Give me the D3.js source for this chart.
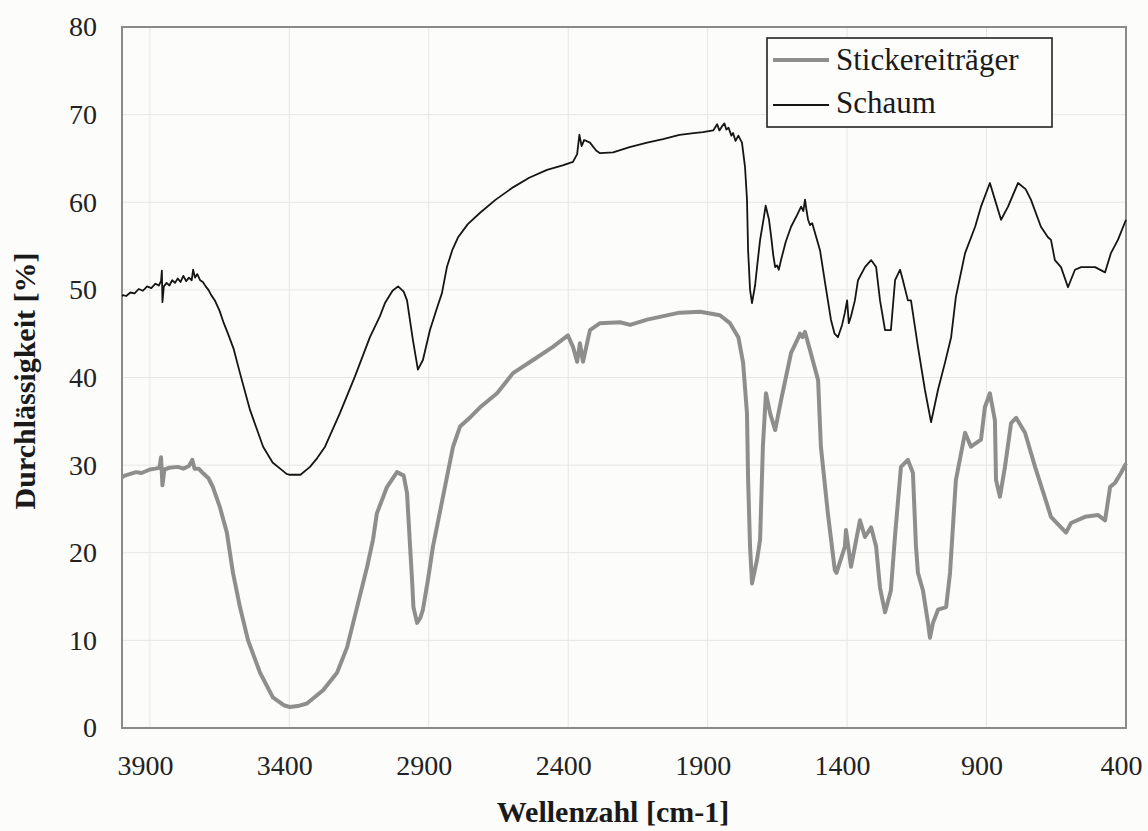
<!DOCTYPE html>
<html>
<head>
<meta charset="utf-8">
<script src="https://cdn.jsdelivr.net/npm/d3@7"></script>
<style>
  body { margin: 0; background: #fcfcfa; }
  .tick text { font-family: "Liberation Serif", "Times New Roman", serif; font-size: 28px; fill: #222; }
  .grid { stroke: #e6e6e3; stroke-width: 1; }
</style>
</head>
<body>
<div id="my_dataviz"></div>
<script>
// tick labels
var xTicks = [3900, 3400, 2900, 2400, 1900, 1400, 900, 400];
var yTicks = [0, 10, 20, 30, 40, 50, 60, 70, 80];
var seriesNames = ["Stickereiträger", "Schaum"];

// Schaum: [wavenumber, transmission %]
var schaum = [
  [4000,49.3],[3996,49.4],[3985,49.3],[3970,49.7],[3955,49.6],[3940,50.1],[3925,49.9],[3910,50.4],
  [3895,50.2],[3880,50.7],[3868,50.5],[3860,51.0],[3857,52.2],[3855,48.6],[3850,50.4],[3840,50.8],
  [3830,50.5],[3820,51.1],[3810,50.8],[3800,51.3],[3790,50.9],[3780,51.6],[3770,51.0],[3760,51.4],
  [3750,51.1],[3745,52.3],[3738,51.4],[3730,51.8],[3720,51.1],[3710,50.9],[3700,50.4],[3690,50.0],
  [3680,49.4],[3667,48.8],[3650,47.6],[3635,46.2],[3620,45.0],[3600,43.3],[3577,40.5],[3541,36.3],
  [3494,32.1],[3460,30.3],[3433,29.6],[3410,29.0],[3398,28.9],[3360,28.9],[3326,29.8],[3300,30.8],
  [3272,32.1],[3219,35.9],[3165,40.1],[3111,44.6],[3075,47.0],[3057,48.5],[3030,49.9],[3010,50.4],
  [2990,49.8],[2978,48.8],[2957,44.3],[2939,40.9],[2921,42.0],[2896,45.4],[2870,48.0],[2853,49.6],
  [2835,52.6],[2815,54.6],[2795,56.0],[2760,57.5],[2716,58.8],[2660,60.3],[2598,61.7],[2540,62.8],
  [2476,63.7],[2420,64.2],[2383,64.6],[2368,65.5],[2360,67.7],[2352,66.4],[2343,67.1],[2322,66.8],
  [2300,65.9],[2286,65.6],[2239,65.7],[2180,66.3],[2117,66.8],[2060,67.2],[2001,67.7],[1950,67.9],
  [1917,68.0],[1880,68.2],[1866,68.9],[1858,68.2],[1850,68.6],[1840,69.0],[1833,68.3],[1825,68.5],
  [1815,67.6],[1809,67.9],[1800,67.0],[1790,67.6],[1777,66.8],[1766,64.0],[1759,60.3],[1755,54.5],
  [1748,50.0],[1741,48.5],[1730,50.5],[1723,52.6],[1712,55.7],[1700,58.0],[1692,59.6],[1686,58.8],
  [1680,58.0],[1672,56.0],[1665,54.0],[1658,52.6],[1651,52.8],[1645,52.3],[1637,53.4],[1620,55.5],
  [1601,57.2],[1580,58.5],[1565,59.5],[1557,59.0],[1551,60.3],[1546,59.2],[1540,58.0],[1533,57.4],
  [1525,57.6],[1515,56.5],[1497,54.5],[1479,50.8],[1469,48.8],[1458,46.6],[1445,45.0],[1433,44.6],
  [1418,46.0],[1408,47.4],[1400,48.8],[1394,46.2],[1386,47.0],[1372,48.8],[1361,51.1],[1336,52.6],
  [1314,53.4],[1296,52.6],[1282,48.8],[1264,45.4],[1243,45.4],[1228,51.1],[1210,52.3],[1200,51.1],
  [1182,48.8],[1171,48.8],[1146,43.5],[1121,38.6],[1099,34.9],[1074,38.6],[1049,41.7],[1027,44.6],
  [1010,49.2],[977,54.2],[941,57.2],[920,59.5],[888,62.2],[870,60.3],[848,58.0],[823,59.5],
  [787,62.2],[760,61.5],[741,60.3],[705,57.2],[680,56.0],[669,55.7],[655,53.4],[633,52.6],
  [608,50.3],[583,52.3],[561,52.6],[511,52.6],[475,52.0],[454,54.2],[429,55.7],[400,58.0]
];

// Stickereiträger: [wavenumber, transmission %]
var stickereitraeger = [
  [4000,28.6],[3990,28.8],[3970,29.0],[3950,29.2],[3930,29.1],[3900,29.5],[3880,29.6],[3866,29.7],
  [3860,30.9],[3855,27.7],[3848,29.5],[3830,29.7],[3800,29.8],[3780,29.6],[3760,29.9],[3748,30.6],
  [3740,29.6],[3725,29.6],[3710,29.1],[3690,28.5],[3674,27.5],[3649,25.2],[3624,22.3],[3602,17.7],
  [3577,13.8],[3548,10.0],[3505,6.3],[3459,3.5],[3420,2.6],[3398,2.4],[3370,2.5],[3337,2.8],
  [3279,4.3],[3229,6.3],[3193,9.2],[3157,13.8],[3121,18.4],[3100,21.5],[3086,24.5],[3050,27.5],
  [3014,29.2],[2990,28.8],[2978,26.8],[2967,20.7],[2960,16.9],[2955,13.8],[2942,12.0],[2930,12.6],
  [2921,13.5],[2903,16.9],[2885,20.7],[2849,26.4],[2813,32.1],[2788,34.4],[2750,35.5],[2716,36.6],
  [2655,38.2],[2598,40.5],[2526,42.0],[2455,43.5],[2401,44.8],[2383,43.5],[2368,41.8],[2358,43.9],
  [2347,41.8],[2322,45.4],[2286,46.2],[2214,46.3],[2178,46.0],[2117,46.6],[2001,47.4],[1927,47.5],
  [1856,47.1],[1820,46.2],[1790,44.6],[1773,41.7],[1759,35.9],[1755,28.3],[1748,20.7],[1741,16.5],
  [1723,19.2],[1712,21.5],[1702,32.1],[1691,38.2],[1676,35.9],[1658,34.0],[1637,37.4],[1601,42.8],
  [1580,44.2],[1569,45.0],[1560,44.6],[1551,45.2],[1533,43.1],[1504,39.7],[1494,32.1],[1469,24.5],
  [1444,18.0],[1438,17.7],[1420,19.5],[1408,20.7],[1404,22.6],[1386,18.4],[1354,23.7],[1336,21.8],
  [1314,22.9],[1296,20.7],[1282,16.0],[1264,13.2],[1243,15.7],[1228,22.0],[1207,29.8],[1182,30.6],
  [1164,29.1],[1153,20.7],[1146,17.7],[1128,15.7],[1110,12.0],[1103,10.3],[1092,12.0],[1074,13.5],
  [1045,13.8],[1031,17.7],[1010,28.3],[977,33.7],[956,32.1],[920,32.9],[906,36.6],[888,38.2],
  [870,35.1],[866,28.3],[852,26.4],[834,29.8],[812,34.8],[794,35.4],[762,33.7],[726,29.8],
  [680,25.2],[669,24.1],[633,22.9],[615,22.3],[597,23.4],[547,24.1],[500,24.3],[475,23.7],
  [457,27.5],[439,28.0],[418,29.1],[400,30.2]
];

var margin = {top: 27, right: 22, bottom: 103, left: 122},
    width = 1148 - margin.left - margin.right,
    height = 831 - margin.top - margin.bottom;

var svg = d3.select("#my_dataviz")
  .append("svg")
    .attr("width", 1148)
    .attr("height", 831)
  .append("g")
    .attr("transform", "translate(" + margin.left + "," + margin.top + ")");

var x = d3.scaleLinear().domain([4000, 400]).range([0, width]);
var y = d3.scaleLinear().domain([0, 80]).range([height, 0]);

// grid
svg.selectAll("vgrid")
  .data(xTicks.filter(d => d !== 400))
  .enter().append("line")
    .attr("class", "grid")
    .attr("x1", d => x(d)).attr("x2", d => x(d))
    .attr("y1", 0).attr("y2", height);
svg.selectAll("hgrid")
  .data(yTicks.filter(d => d > 0 && d < 80))
  .enter().append("line")
    .attr("class", "grid")
    .attr("x1", 0).attr("x2", width)
    .attr("y1", d => y(d)).attr("y2", d => y(d));

// axes
svg.append("g")
  .attr("transform", "translate(0," + height + ")")
  .call(d3.axisBottom(x).tickValues(xTicks).tickFormat(d3.format("d")).tickSize(0).tickPadding(27))
  .call(g => g.select(".domain").remove())
  .selectAll("text").attr("dx", "-5");

svg.append("g")
  .call(d3.axisLeft(y).tickValues(yTicks).tickSize(0).tickPadding(25))
  .call(g => g.select(".domain").remove());

// frame
svg.append("rect")
  .attr("x", 0).attr("y", 0)
  .attr("width", width).attr("height", height)
  .attr("fill", "none")
  .attr("stroke", "#8a8a8a")
  .attr("stroke-width", 2);

var line = d3.line()
  .x(d => x(d[0]))
  .y(d => y(d[1]));

svg.append("path")
  .datum(stickereitraeger)
  .attr("fill", "none")
  .attr("stroke", "#8e8e8e")
  .attr("stroke-width", 4)
  .attr("stroke-linejoin", "round")
  .attr("d", line);

svg.append("path")
  .datum(schaum)
  .attr("fill", "none")
  .attr("stroke", "#151515")
  .attr("stroke-width", 1.8)
  .attr("stroke-linejoin", "round")
  .attr("d", line);

// axis titles
svg.append("text")
  .attr("x", 491)
  .attr("y", 795)
  .style("text-anchor", "middle")
  .style("font-family", "Liberation Serif, serif")
  .style("font-weight", "bold")
  .style("font-size", "30px")
  .attr("fill", "#1a1a1a")
  .text("Wellenzahl [cm-1]");

svg.append("text")
  .attr("transform", "translate(-87,354) rotate(-90)")
  .style("text-anchor", "middle")
  .style("font-family", "Liberation Serif, serif")
  .style("font-weight", "bold")
  .style("font-size", "30px")
  .attr("fill", "#1a1a1a")
  .text("Durchlässigkeit [%]");

// legend
var legend = svg.append("g").attr("transform", "translate(645,11)");
legend.append("rect")
  .attr("width", 285).attr("height", 89)
  .attr("fill", "#fdfdfc")
  .attr("stroke", "#222")
  .attr("stroke-width", 1.6);
var legStroke = [["#8e8e8e", 4], ["#151515", 1.8]];
seriesNames.forEach(function(name, i) {
  legend.append("line")
    .attr("x1", 6).attr("x2", 62)
    .attr("y1", 22 + i * 45).attr("y2", 22 + i * 45)
    .attr("stroke", legStroke[i][0])
    .attr("stroke-width", legStroke[i][1]);
  legend.append("text")
    .attr("x", 69)
    .attr("y", 32 + i * 43)
    .style("font-family", "Liberation Serif, serif")
    .style("font-size", "31px")
    .attr("fill", "#1a1a1a")
    .text(name);
});
</script>
</body>
</html>
